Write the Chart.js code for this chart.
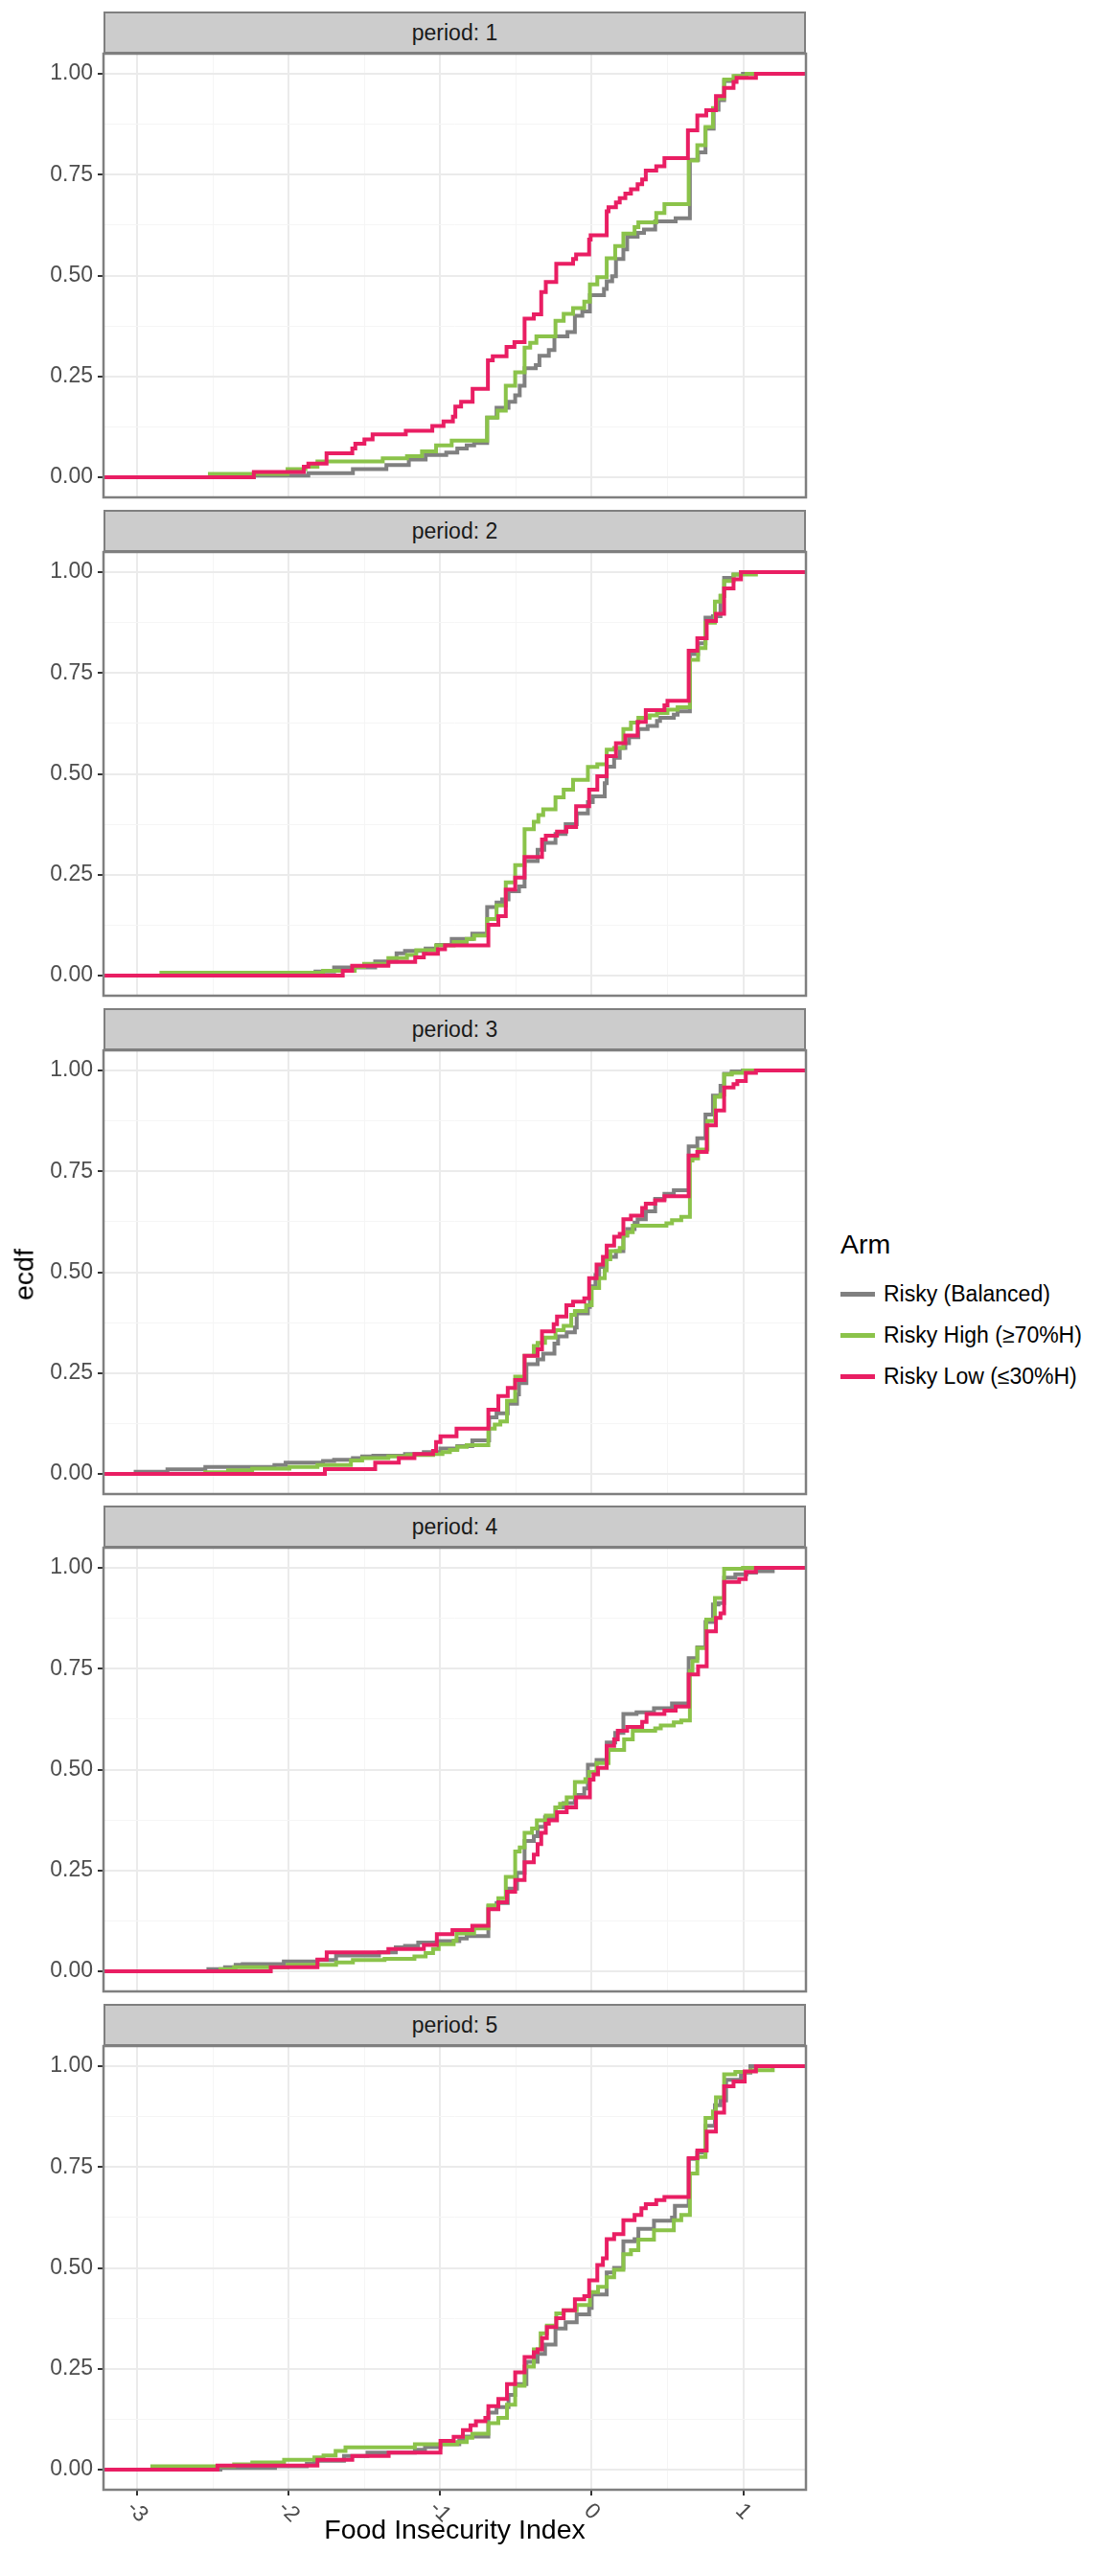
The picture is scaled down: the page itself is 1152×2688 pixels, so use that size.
<!DOCTYPE html>
<html>
<head>
<meta charset="utf-8">
<script src="https://cdn.jsdelivr.net/npm/chart.js@4.4.1/dist/chart.umd.min.js"></script>
<style>
  html, body { margin: 0; padding: 0; background: #ffffff; }
  body { width: 1152px; height: 2688px; position: relative; overflow: hidden;
         font-family: "Liberation Sans", Arial, Helvetica, sans-serif; }
  canvas { position: absolute; left: 0; }
  .strip { position: absolute; left: 108px; width: 733px; height: 44px; box-sizing: border-box;
           background: #cccccc; border: 2.5px solid #7f7f7f; color: #1a1a1a; font-size: 23px;
           display: flex; align-items: center; justify-content: center; }
  .ytitle { position: absolute; left: 25px; top: 1330px; transform: translate(-50%, -50%) rotate(-90deg);
            font-size: 28.5px; color: #000; white-space: nowrap; }
  .xtitle { position: absolute; left: 474.5px; top: 2639px; transform: translate(-50%, -50%);
            font-size: 28.5px; color: #000; white-space: nowrap; }
  .legend { position: absolute; left: 877px; top: 1282px; }
  .legend .ttl { font-size: 28.5px; color: #000; height: 47px; line-height: 32px; }
  .legend .item { height: 43px; display: flex; align-items: center; font-size: 23px; color: #000; }
  .legend .key { width: 36px; height: 5px; margin-right: 9px; }
</style>
</head>
<body>
<div id="root"></div>
<script>
// ---------------- data ----------------
const periods = ['1', '2', '3', '4', '5'];
const armNames = ['Risky (Balanced)', 'Risky High (\u226570%H)', 'Risky Low (\u226430%H)'];
const armColors = ['#808080', '#8bc34a', '#e91e63'];
const xTickValues = [-3, -2, -1, 0, 1];
const xTickLabels = ['-3', '-2', '-1', '0', '1'];
const yTickValues = [0, 0.25, 0.5, 0.75, 1];
const yTickLabels = ['0.00', '0.25', '0.50', '0.75', '1.00'];
const xLimits = [-3.222, 1.414];
const yLimits = [-0.05, 1.05];

// period 1
const p1_bal_x  = [-2.23, -1.87, -1.576, -1.355, -1.207, -1.096, -0.96, -0.887, -0.825, -0.776, -0.69, -0.628, -0.549, -0.505, -0.475, -0.443, -0.369, -0.345, -0.283, -0.246, -0.16, -0.111, -0.062, -0.012, 0.081, 0.099, 0.135, 0.16, 0.209, 0.234, 0.303, 0.345, 0.419, 0.554, 0.648, 0.702, 0.751, 0.805, 0.837, 0.874, 0.948, 0.998];
const p1_bal_y  = [0.004, 0.010, 0.020, 0.030, 0.044, 0.055, 0.061, 0.071, 0.079, 0.085, 0.148, 0.172, 0.187, 0.203, 0.227, 0.270, 0.278, 0.301, 0.315, 0.349, 0.360, 0.400, 0.411, 0.451, 0.467, 0.486, 0.498, 0.541, 0.565, 0.596, 0.606, 0.614, 0.634, 0.642, 0.787, 0.805, 0.864, 0.911, 0.935, 0.982, 0.994, 1.0];
const p1_high_x = [-2.52, -2.007, -1.889, -1.81, -1.379, -1.219, -1.12, -1.027, -0.924, -0.69, -0.621, -0.567, -0.505, -0.443, -0.406, -0.365, -0.239, -0.185, -0.123, -0.049, -0.012, 0.037, 0.099, 0.155, 0.209, 0.283, 0.308, 0.426, 0.48, 0.64, 0.697, 0.751, 0.8, 0.825, 0.874, 0.936, 1.022];
const p1_high_y = [0.008, 0.020, 0.026, 0.039, 0.047, 0.052, 0.064, 0.079, 0.091, 0.148, 0.165, 0.227, 0.260, 0.321, 0.333, 0.349, 0.388, 0.405, 0.419, 0.435, 0.478, 0.496, 0.543, 0.573, 0.604, 0.620, 0.632, 0.655, 0.677, 0.785, 0.823, 0.868, 0.915, 0.939, 0.986, 0.995, 1.0];
const p1_low_x  = [-2.23, -1.9, -1.87, -1.75, -1.58, -1.56, -1.5, -1.446, -1.227, -1.052, -0.978, -0.916, -0.9, -0.862, -0.786, -0.685, -0.653, -0.562, -0.51, -0.443, -0.382, -0.333, -0.303, -0.234, -0.123, -0.103, -0.017, -0.007, 0.099, 0.111, 0.16, 0.185, 0.222, 0.259, 0.303, 0.333, 0.357, 0.426, 0.48, 0.635, 0.697, 0.756, 0.82, 0.874, 0.936, 0.956, 1.084];
const p1_low_y  = [0.013, 0.026, 0.034, 0.059, 0.071, 0.083, 0.094, 0.106, 0.115, 0.127, 0.138, 0.150, 0.175, 0.187, 0.219, 0.290, 0.300, 0.323, 0.335, 0.393, 0.404, 0.459, 0.484, 0.529, 0.541, 0.552, 0.589, 0.600, 0.659, 0.669, 0.681, 0.692, 0.703, 0.714, 0.726, 0.738, 0.760, 0.771, 0.791, 0.860, 0.897, 0.910, 0.945, 0.965, 0.980, 0.990, 1.0];

// period 2
const p2_bal_x  = [-2.1, -1.823, -1.7, -1.429, -1.288, -1.232, -1.096, -1.022, -0.924, -0.788, -0.69, -0.628, -0.591, -0.549, -0.48, -0.443, -0.357, -0.313, -0.239, -0.172, -0.099, -0.025, 0.007, 0.086, 0.099, 0.148, 0.185, 0.222, 0.246, 0.308, 0.369, 0.431, 0.451, 0.542, 0.567, 0.648, 0.702, 0.751, 0.8, 0.85, 0.874, 0.936, 0.985];
const p2_bal_y  = [0.004, 0.010, 0.020, 0.035, 0.055, 0.061, 0.067, 0.076, 0.091, 0.104, 0.170, 0.181, 0.189, 0.209, 0.221, 0.284, 0.312, 0.329, 0.351, 0.375, 0.402, 0.430, 0.444, 0.477, 0.518, 0.540, 0.564, 0.576, 0.591, 0.611, 0.619, 0.631, 0.639, 0.647, 0.655, 0.797, 0.824, 0.887, 0.891, 0.941, 0.986, 0.994, 1.0];
const p2_high_x = [-2.84, -1.773, -1.564, -1.502, -1.342, -1.219, -1.158, -1.027, -0.911, -0.825, -0.776, -0.69, -0.628, -0.567, -0.505, -0.443, -0.382, -0.352, -0.32, -0.239, -0.185, -0.123, -0.025, 0.037, 0.099, 0.148, 0.209, 0.259, 0.308, 0.382, 0.431, 0.5, 0.567, 0.648, 0.702, 0.751, 0.813, 0.85, 0.874, 0.936, 1.084];
const p2_high_y = [0.007, 0.012, 0.021, 0.029, 0.043, 0.051, 0.063, 0.075, 0.083, 0.091, 0.099, 0.140, 0.174, 0.231, 0.274, 0.363, 0.381, 0.398, 0.412, 0.442, 0.461, 0.485, 0.517, 0.524, 0.560, 0.564, 0.611, 0.627, 0.639, 0.645, 0.651, 0.659, 0.665, 0.783, 0.812, 0.875, 0.927, 0.942, 0.978, 0.994, 1.0];
const p2_low_x  = [-1.643, -1.581, -1.342, -1.165, -1.108, -1.015, -0.968, -0.682, -0.616, -0.567, -0.505, -0.443, -0.328, -0.303, -0.229, -0.167, -0.103, -0.017, 0.037, 0.099, 0.16, 0.222, 0.303, 0.357, 0.48, 0.5, 0.64, 0.697, 0.759, 0.82, 0.874, 0.936, 0.985];
const p2_low_y  = [0.012, 0.024, 0.034, 0.045, 0.054, 0.065, 0.075, 0.126, 0.147, 0.213, 0.243, 0.294, 0.337, 0.347, 0.357, 0.368, 0.420, 0.461, 0.494, 0.544, 0.576, 0.595, 0.629, 0.658, 0.670, 0.681, 0.805, 0.836, 0.879, 0.897, 0.960, 0.982, 1.0];

// period 3
const p3_bal_x  = [-3.01, -2.8, -2.55, -2.094, -2.02, -1.773, -1.7, -1.576, -1.515, -1.441, -1.232, -1.108, -0.998, -0.887, -0.788, -0.677, -0.628, -0.554, -0.493, -0.48, -0.431, -0.357, -0.32, -0.246, -0.222, -0.165, -0.111, -0.099, -0.025, -0.012, 0.025, 0.049, 0.099, 0.16, 0.209, 0.234, 0.283, 0.303, 0.357, 0.419, 0.48, 0.542, 0.64, 0.697, 0.751, 0.8, 0.85, 0.874, 0.924, 0.998];
const p3_bal_y  = [0.005, 0.011, 0.017, 0.022, 0.028, 0.032, 0.035, 0.039, 0.043, 0.045, 0.049, 0.054, 0.063, 0.069, 0.083, 0.140, 0.150, 0.174, 0.197, 0.225, 0.272, 0.284, 0.298, 0.323, 0.341, 0.351, 0.363, 0.398, 0.414, 0.465, 0.493, 0.513, 0.538, 0.552, 0.591, 0.607, 0.623, 0.631, 0.651, 0.682, 0.694, 0.703, 0.812, 0.832, 0.891, 0.938, 0.962, 0.992, 0.998, 1.0];
const p3_high_x = [-2.55, -2.4, -2.241, -1.995, -1.81, -1.589, -1.515, -1.342, -1.219, -1.047, -0.985, -0.936, -0.887, -0.825, -0.682, -0.64, -0.603, -0.559, -0.505, -0.443, -0.382, -0.357, -0.308, -0.239, -0.185, -0.135, -0.111, -0.037, 0.0, 0.049, 0.086, 0.099, 0.123, 0.185, 0.209, 0.234, 0.271, 0.493, 0.53, 0.591, 0.648, 0.665, 0.702, 0.764, 0.813, 0.85, 0.874, 0.924, 1.002];
const p3_high_y = [0.004, 0.009, 0.013, 0.017, 0.022, 0.033, 0.039, 0.043, 0.047, 0.049, 0.054, 0.059, 0.067, 0.071, 0.112, 0.122, 0.130, 0.181, 0.241, 0.293, 0.317, 0.325, 0.338, 0.356, 0.367, 0.394, 0.404, 0.418, 0.461, 0.485, 0.505, 0.532, 0.552, 0.560, 0.591, 0.599, 0.615, 0.621, 0.629, 0.637, 0.777, 0.782, 0.804, 0.875, 0.935, 0.940, 0.990, 0.994, 1.0];
const p3_low_x  = [-1.761, -1.429, -1.273, -1.17, -1.047, -1.027, -0.998, -0.892, -0.682, -0.616, -0.554, -0.505, -0.443, -0.357, -0.328, -0.251, -0.229, -0.167, -0.123, -0.049, -0.017, 0.032, 0.074, 0.099, 0.148, 0.185, 0.209, 0.259, 0.333, 0.357, 0.419, 0.48, 0.64, 0.697, 0.759, 0.82, 0.874, 0.936, 0.961, 1.017, 1.084];
const p3_low_y  = [0.012, 0.028, 0.039, 0.049, 0.057, 0.079, 0.093, 0.112, 0.159, 0.193, 0.213, 0.233, 0.293, 0.309, 0.353, 0.371, 0.390, 0.418, 0.427, 0.435, 0.485, 0.519, 0.538, 0.566, 0.588, 0.595, 0.631, 0.640, 0.659, 0.670, 0.678, 0.688, 0.789, 0.798, 0.864, 0.901, 0.958, 0.966, 0.974, 0.994, 1.0];

// period 4
const p4_bal_x  = [-2.53, -2.42, -2.35, -2.303, -2.032, -1.81, -1.687, -1.404, -1.293, -1.232, -1.145, -1.022, -0.874, -0.825, -0.682, -0.628, -0.554, -0.493, -0.443, -0.382, -0.357, -0.308, -0.239, -0.185, -0.111, -0.049, -0.025, 0.032, 0.099, 0.155, 0.209, 0.296, 0.411, 0.53, 0.64, 0.697, 0.751, 0.8, 0.837, 0.874, 0.948, 1.022, 1.084, 1.195];
const p4_bal_y  = [0.005, 0.010, 0.016, 0.018, 0.024, 0.028, 0.039, 0.047, 0.059, 0.063, 0.071, 0.075, 0.081, 0.087, 0.161, 0.169, 0.205, 0.244, 0.323, 0.335, 0.358, 0.382, 0.406, 0.417, 0.437, 0.453, 0.512, 0.524, 0.567, 0.591, 0.638, 0.642, 0.652, 0.664, 0.776, 0.803, 0.866, 0.909, 0.913, 0.976, 0.984, 0.988, 0.992, 1.0];
const p4_high_x = [-2.45, -2.36, -2.007, -1.687, -1.576, -1.367, -1.17, -1.096, -1.047, -1.01, -0.911, -0.892, -0.776, -0.682, -0.616, -0.567, -0.505, -0.475, -0.443, -0.394, -0.362, -0.303, -0.239, -0.209, -0.165, -0.111, -0.042, -0.017, 0.032, 0.111, 0.214, 0.271, 0.419, 0.456, 0.542, 0.591, 0.648, 0.665, 0.697, 0.756, 0.813, 0.874, 0.998];
const p4_high_y = [0.005, 0.010, 0.016, 0.022, 0.028, 0.031, 0.037, 0.045, 0.055, 0.067, 0.076, 0.094, 0.106, 0.163, 0.181, 0.234, 0.297, 0.307, 0.343, 0.354, 0.374, 0.386, 0.406, 0.415, 0.431, 0.469, 0.476, 0.494, 0.516, 0.549, 0.575, 0.596, 0.602, 0.609, 0.617, 0.622, 0.744, 0.769, 0.801, 0.872, 0.925, 0.998, 1.0];
const p4_low_x  = [-2.118, -1.81, -1.749, -1.342, -1.108, -1.022, -0.919, -0.788, -0.682, -0.616, -0.559, -0.505, -0.443, -0.382, -0.357, -0.333, -0.303, -0.283, -0.229, -0.165, -0.103, -0.012, 0.012, 0.042, 0.099, 0.148, 0.172, 0.234, 0.333, 0.362, 0.48, 0.554, 0.64, 0.702, 0.759, 0.82, 0.85, 0.874, 0.973, 1.017, 1.084];
const p4_low_y  = [0.010, 0.029, 0.047, 0.055, 0.065, 0.092, 0.102, 0.113, 0.154, 0.171, 0.197, 0.226, 0.270, 0.289, 0.315, 0.343, 0.366, 0.374, 0.394, 0.406, 0.431, 0.475, 0.488, 0.504, 0.559, 0.575, 0.596, 0.606, 0.618, 0.638, 0.646, 0.656, 0.736, 0.756, 0.843, 0.876, 0.887, 0.965, 0.972, 0.990, 1.0];

// period 5
const p5_bal_x  = [-2.45, -2.09, -1.88, -1.83, -1.635, -1.48, -1.167, -1.1, -0.998, -0.874, -0.825, -0.682, -0.628, -0.549, -0.505, -0.431, -0.357, -0.308, -0.239, -0.172, -0.099, -0.017, 0.0, 0.099, 0.148, 0.209, 0.283, 0.308, 0.411, 0.53, 0.549, 0.64, 0.697, 0.751, 0.813, 0.85, 0.887, 0.985, 1.047];
const p5_bal_y  = [0.004, 0.008, 0.014, 0.022, 0.034, 0.042, 0.049, 0.056, 0.063, 0.073, 0.082, 0.141, 0.155, 0.185, 0.212, 0.267, 0.287, 0.310, 0.350, 0.365, 0.385, 0.401, 0.434, 0.489, 0.500, 0.566, 0.571, 0.597, 0.617, 0.625, 0.654, 0.770, 0.786, 0.852, 0.903, 0.915, 0.966, 0.984, 1.0];
const p5_high_x = [-2.9, -2.36, -2.24, -2.03, -1.83, -1.77, -1.69, -1.625, -1.167, -0.887, -0.825, -0.788, -0.682, -0.616, -0.559, -0.505, -0.443, -0.382, -0.337, -0.296, -0.234, -0.185, -0.099, -0.012, 0.042, 0.099, 0.148, 0.209, 0.259, 0.308, 0.411, 0.542, 0.591, 0.648, 0.697, 0.751, 0.8, 0.82, 0.874, 0.948, 1.047, 1.195];
const p5_high_y = [0.008, 0.013, 0.018, 0.024, 0.030, 0.035, 0.046, 0.055, 0.063, 0.068, 0.079, 0.089, 0.115, 0.128, 0.161, 0.208, 0.255, 0.298, 0.338, 0.357, 0.387, 0.395, 0.408, 0.440, 0.453, 0.477, 0.495, 0.534, 0.544, 0.570, 0.593, 0.618, 0.631, 0.734, 0.775, 0.872, 0.888, 0.923, 0.980, 0.986, 0.990, 1.0];
const p5_low_x  = [-2.47, -1.81, -1.58, -1.34, -0.998, -0.911, -0.85, -0.8, -0.764, -0.702, -0.682, -0.616, -0.559, -0.505, -0.443, -0.382, -0.357, -0.328, -0.296, -0.234, -0.185, -0.111, -0.049, -0.017, 0.037, 0.074, 0.099, 0.148, 0.209, 0.283, 0.328, 0.357, 0.426, 0.48, 0.64, 0.697, 0.759, 0.82, 0.874, 0.936, 1.01, 1.084];
const p5_low_y  = [0.010, 0.024, 0.034, 0.042, 0.071, 0.081, 0.098, 0.110, 0.120, 0.128, 0.157, 0.175, 0.212, 0.241, 0.279, 0.291, 0.298, 0.326, 0.353, 0.375, 0.395, 0.422, 0.430, 0.469, 0.507, 0.524, 0.571, 0.584, 0.618, 0.631, 0.648, 0.658, 0.668, 0.676, 0.772, 0.791, 0.838, 0.885, 0.950, 0.962, 0.987, 1.0];

const panelSeries = [
  [[p1_bal_x, p1_bal_y], [p1_high_x, p1_high_y], [p1_low_x, p1_low_y]],
  [[p2_bal_x, p2_bal_y], [p2_high_x, p2_high_y], [p2_low_x, p2_low_y]],
  [[p3_bal_x, p3_bal_y], [p3_high_x, p3_high_y], [p3_low_x, p3_low_y]],
  [[p4_bal_x, p4_bal_y], [p4_high_x, p4_high_y], [p4_low_x, p4_low_y]],
  [[p5_bal_x, p5_bal_y], [p5_high_x, p5_high_y], [p5_low_x, p5_low_y]]
];

// ---------------- layout ----------------
const PANEL_LEFT = 108, PANEL_RIGHT = 841, CANVAS_W = 852;
const STRIP_TOP0 = 12, PITCH = 519.8, STRIP_H = 44, PLOT_H = 463, PAD = 20, XAXIS_H = 60;

Chart.defaults.font.family = '"Liberation Sans", Arial, Helvetica, sans-serif';
Chart.defaults.animation = false;

const root = document.getElementById('root');

const isMajorY = v => yTickValues.some(t => Math.abs(t - v) < 1e-9);
const isMajorX = v => xTickValues.some(t => Math.abs(t - v) < 1e-9);
const yGrid = []; for (let v = 0; v <= 1.0001; v += 0.125) yGrid.push(+v.toFixed(3));
const xGrid = []; for (let v = -3; v <= xLimits[1]; v += 0.5) xGrid.push(+v.toFixed(3));

const borderPlugin = {
  id: 'panelBorder',
  afterDatasetsDraw(chart) {
    const a = chart.chartArea, ctx = chart.ctx;
    ctx.save();
    ctx.strokeStyle = '#7f7f7f';
    ctx.lineWidth = 2.5;
    ctx.strokeRect(a.left, a.top, a.right - a.left, a.bottom - a.top);
    ctx.restore();
  }
};

const xLabelPlugin = {
  id: 'xLabels',
  afterDraw(chart) {
    if (!chart.options.plugins.xLabels || !chart.options.plugins.xLabels.show) return;
    const sx = chart.scales.x, ctx = chart.ctx, a = chart.chartArea;
    ctx.save();
    ctx.fillStyle = '#4d4d4d';
    ctx.font = '23px "Liberation Sans", Arial, sans-serif';
    ctx.textAlign = 'center';
    ctx.textBaseline = 'middle';
    xTickValues.forEach((v, i) => {
      const px = sx.getPixelForValue(v);
      ctx.save();
      ctx.translate(px, a.bottom + 23);
      ctx.rotate(Math.PI / 4);
      ctx.fillText(xTickLabels[i], 0, 0);
      ctx.restore();
    });
    ctx.restore();
  }
};

periods.forEach((p, i) => {
  const stripTop = Math.round(STRIP_TOP0 + PITCH * i);
  const plotTop = stripTop + STRIP_H;
  const last = i === periods.length - 1;

  const cv = document.createElement('canvas');
  const h = PAD + PLOT_H + (last ? XAXIS_H : PAD);
  cv.width = CANVAS_W; cv.height = h;
  cv.style.width = CANVAS_W + 'px'; cv.style.height = h + 'px';
  cv.style.top = (plotTop - PAD) + 'px';
  root.appendChild(cv);

  const strip = document.createElement('div');
  strip.className = 'strip';
  strip.style.top = stripTop + 'px';
  strip.textContent = 'period: ' + p;
  root.appendChild(strip);

  const datasets = panelSeries[i].map((s, k) => ({
    label: armNames[k],
    data: [{ x: xLimits[0], y: 0 }].concat(s[0].map((x, j) => ({ x: x, y: s[1][j] }))).concat([{ x: xLimits[1], y: 1 }]),
    borderColor: armColors[k],
    backgroundColor: armColors[k],
    borderWidth: 4,
    stepped: 'before',
    pointRadius: 0,
    pointHoverRadius: 0,
    fill: false,
    tension: 0,
    borderJoinStyle: 'miter',
    borderCapStyle: 'butt',
    order: 3 - k
  }));

  new Chart(cv, {
    type: 'line',
    data: { datasets },
    plugins: [borderPlugin, xLabelPlugin],
    options: {
      responsive: false,
      devicePixelRatio: 1,
      animation: false,
      layout: { padding: { left: 0, right: CANVAS_W - PANEL_RIGHT, top: PAD, bottom: 0 } },
      plugins: { legend: { display: false }, tooltip: { enabled: false }, title: { display: false },
                 xLabels: { show: last } },
      scales: {
        x: {
          type: 'linear', min: xLimits[0], max: xLimits[1],
          afterBuildTicks: sc => { sc.ticks = xGrid.map(v => ({ value: v })); },
          afterFit: sc => { sc.height = last ? XAXIS_H : PAD; sc.paddingLeft = 0; sc.paddingRight = 0; },
          border: { display: false },
          ticks: { display: false },
          grid: {
            drawTicks: last, tickLength: 6,
            color: c => isMajorX(c.tick.value) ? '#ebebeb' : '#f5f5f5',
            lineWidth: c => isMajorX(c.tick.value) ? 2 : 1,
            tickColor: c => (last && isMajorX(c.tick.value)) ? '#333333' : 'rgba(0,0,0,0)',
            tickWidth: 2
          }
        },
        y: {
          type: 'linear', min: yLimits[0], max: yLimits[1],
          afterBuildTicks: sc => { sc.ticks = yGrid.map(v => ({ value: v })); },
          afterFit: sc => { sc.width = PANEL_LEFT; sc.paddingTop = 0; sc.paddingBottom = 0; },
          border: { display: false },
          ticks: {
            autoSkip: false, padding: 5, color: '#4d4d4d', font: { size: 23 },
            callback: v => { const k = yTickValues.findIndex(t => Math.abs(t - v) < 1e-9); return k >= 0 ? yTickLabels[k] : ''; }
          },
          grid: {
            drawTicks: true, tickLength: 6,
            color: c => isMajorY(c.tick.value) ? '#ebebeb' : '#f5f5f5',
            lineWidth: c => isMajorY(c.tick.value) ? 2 : 1,
            tickColor: c => isMajorY(c.tick.value) ? '#333333' : 'rgba(0,0,0,0)',
            tickWidth: 2
          }
        }
      }
    }
  });
});

// axis titles and legend
const yt = document.createElement('div'); yt.className = 'ytitle'; yt.textContent = 'ecdf'; root.appendChild(yt);
const xt = document.createElement('div'); xt.className = 'xtitle'; xt.textContent = 'Food Insecurity Index'; root.appendChild(xt);
const lg = document.createElement('div'); lg.className = 'legend';
const lt = document.createElement('div'); lt.className = 'ttl'; lt.textContent = 'Arm'; lg.appendChild(lt);
armNames.forEach((n, k) => {
  const it = document.createElement('div'); it.className = 'item';
  const key = document.createElement('div'); key.className = 'key'; key.style.background = armColors[k];
  const tx = document.createElement('span'); tx.textContent = n;
  it.appendChild(key); it.appendChild(tx); lg.appendChild(it);
});
root.appendChild(lg);
</script>
</body>
</html>
